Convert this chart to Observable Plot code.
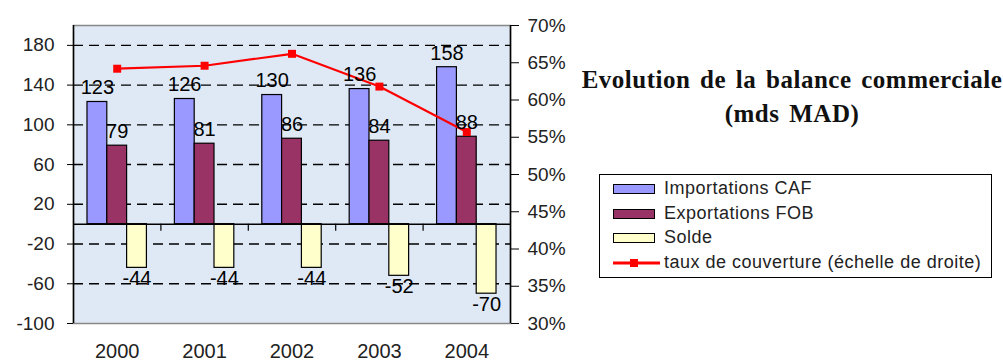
<!DOCTYPE html>
<html>
<head>
<meta charset="utf-8">
<script src="https://cdn.jsdelivr.net/npm/d3@7"></script>
<script src="https://cdn.jsdelivr.net/npm/@observablehq/plot@0.6"></script>
<style>
  html, body { margin: 0; padding: 0; background: #ffffff; }
  #wrap { position: relative; width: 1003px; height: 363px; overflow: hidden; font-family: "Liberation Sans", Arial, sans-serif; }
  #chart { position: absolute; left: 0; top: 0; }
  #title { position: absolute; left: 572px; width: 440px; top: 63px; text-align: center; white-space: nowrap;
           font-family: "Liberation Serif", "Times New Roman", serif; font-weight: bold; font-size: 25px; line-height: 34px; letter-spacing: 0.5px; word-spacing: 3px; color: #111; }
  #legend { position: absolute; left: 599px; top: 174px; width: 391px; height: 102px; border: 1.5px solid #000; background: #fff; }
  .row { position: absolute; left: 0; height: 24px; width: 100%; }
  .sw { position: absolute; left: 13px; top: 7px; width: 40px; height: 8px; border: 1.5px solid #000; }
  .lab { position: absolute; left: 64px; top: 1px; font-size: 18px; line-height: 20px; color: #222; white-space: nowrap; letter-spacing: 0.5px; }
</style>
</head>
<body>
<div id="wrap">
  <div id="chart"></div>
  <div id="title">Evolution de la balance commerciale<br>(mds MAD)</div>
  <div id="legend"></div>
</div>
<script>
// ---- data ----
const years = [2000, 2001, 2002, 2003, 2004];
const importations = [123, 126, 130, 136, 158];
const exportations = [79, 81, 86, 84, 88];
const solde = [-44, -44, -44, -52, -70];
const tauxCouverture = [64.2, 64.6, 66.2, 61.8, 55.7]; // %
const leftTicks = [-100, -60, -20, 20, 60, 100, 140, 180];
const gridTicks = [-60, -20, 20, 60, 100, 140, 180];
const rightTicks = [30, 35, 40, 45, 50, 55, 60, 65, 70];
const seriesNames = ["Importations CAF", "Exportations FOB", "Solde", "taux de couverture (échelle de droite)"];
const seriesColors = ["#9999ff", "#993366", "#ffffcc", "#ff0000"];

// ---- helpers ----
const leftDomain = [-100, 200];
const rightDomain = [30, 70];
const toLeft = p => leftDomain[0] + (p - rightDomain[0]) / (rightDomain[1] - rightDomain[0]) * (leftDomain[1] - leftDomain[0]);
const toRight = v => rightDomain[0] + (v - leftDomain[0]) / (leftDomain[1] - leftDomain[0]) * (rightDomain[1] - rightDomain[0]);

const bw = 0.68 / 3; // bar width in year units
const mk = (vals, i) => years.map((y, j) => ({year: y, v: vals[j], x1: y + (i - 1.5) * bw, x2: y + (i - 0.5) * bw, xc: y + (i - 1) * bw}));
const impD = mk(importations, 0);
const expD = mk(exportations, 1);
const solD = mk(solde, 2);
const rateD = years.map((y, j) => ({year: y, r: tauxCouverture[j]}));

const barOpts = {x1: "x1", x2: "x2", y1: d => 0, y2: "v", stroke: "#000", strokeWidth: 1.2};
const txtOpts = {x: "xc", y: "v", text: d => String(d.v), fontSize: 20, fill: "#000"};

const chart = Plot.plot({
  width: 1003,
  height: 363,
  marginLeft: 73,
  marginRight: 493,
  marginTop: 25,
  marginBottom: 40,
  style: {fontFamily: "'Liberation Sans', Arial, sans-serif", fontSize: "19px", color: "#222", background: "transparent"},
  x: {type: "linear", domain: [1999.5, 2004.5], label: null},
  y: {domain: leftDomain, label: null},
  marks: [
    Plot.frame({fill: "#dfe9f6", stroke: "#888", strokeWidth: 1.5}),
    Plot.ruleY(gridTicks, {stroke: "#000", strokeWidth: 1.4, strokeDasharray: "10,6"}),
    Plot.rect(impD, {...barOpts, fill: seriesColors[0]}),
    Plot.rect(expD, {...barOpts, fill: seriesColors[1]}),
    Plot.rect(solD, {...barOpts, fill: seriesColors[2]}),
    Plot.ruleY([0], {stroke: "#000", strokeWidth: 1.5}),
    Plot.ruleX(years.slice(0, -1).map(y => y + 0.5), {y1: d => 0, y2: d => 0, insetBottom: -7, stroke: "#000", strokeWidth: 1.2}),
    Plot.ruleX([1999.5, 2004.5], {stroke: "#000", strokeWidth: 1.5}),
    Plot.line(rateD, {x: "year", y: d => toLeft(d.r), stroke: seriesColors[3], strokeWidth: 2.2}),
    Plot.dot(rateD, {x: "year", y: d => toLeft(d.r), symbol: "square", r: 4.5, fill: seriesColors[3], stroke: "none"}),
    Plot.text(impD, {...txtOpts, dy: -14}),
    Plot.text(expD, {...txtOpts, dy: -14}),
    Plot.text(solD, {...txtOpts, dy: 11}),
    Plot.axisY(leftTicks, {anchor: "left", label: null, tickSize: 6, tickPadding: 13, tickFormat: d => String(d), stroke: "#000", fill: "#222"}),
    Plot.axisY(rightTicks.map(toLeft), {anchor: "right", label: null, tickSize: 8, tickPadding: 9, tickFormat: d => Math.round(toRight(d)) + "%", stroke: "#000", fill: "#222"}),
    Plot.axisX(years, {anchor: "bottom", label: null, tickSize: 0, tickPadding: 20, tickFormat: d => String(d), fontSize: 20, fill: "#222"})
  ]
});
document.getElementById("chart").appendChild(chart);

// ---- legend ----
const legend = document.getElementById("legend");
seriesNames.forEach((name, i) => {
  const row = document.createElement("div");
  row.className = "row";
  row.style.top = (2 + i * 24.5) + "px";
  if (i < 3) {
    const sw = document.createElement("div");
    sw.className = "sw";
    sw.style.background = seriesColors[i];
    row.appendChild(sw);
  } else {
    row.insertAdjacentHTML("beforeend",
      `<svg style="position:absolute;left:12px;top:2px" width="50" height="20">
         <line x1="1" x2="48" y1="10" y2="10" stroke="${seriesColors[i]}" stroke-width="3"/>
         <rect x="18" y="6" width="8" height="8" fill="${seriesColors[i]}"/>
       </svg>`);
  }
  const lab = document.createElement("div");
  lab.className = "lab";
  lab.textContent = name;
  row.appendChild(lab);
  legend.appendChild(row);
});
</script>
</body>
</html>
